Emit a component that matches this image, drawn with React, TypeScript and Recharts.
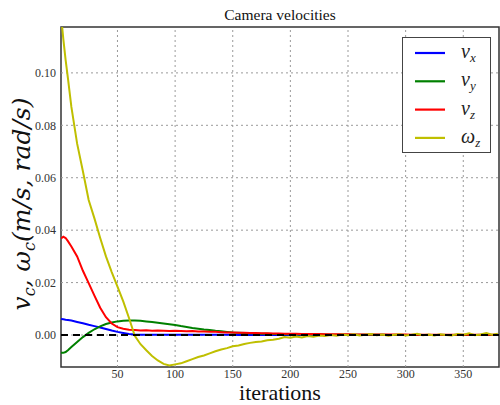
import React from 'react';
import { LineChart, Line, XAxis, YAxis, Legend, ReferenceLine, ReferenceArea, Label } from 'recharts';

// iteration index of every sample
const iterations = [
  1, 3, 5, 7, 10, 15, 20, 25, 30, 35, 40, 45, 50, 55, 60, 65, 70, 75, 80, 85, 90, 95, 100,
  105, 110, 115, 120, 125, 130, 135, 140, 145, 150, 155, 160, 165, 170, 175, 180, 185, 190, 195, 200,
  205, 210, 215, 220, 225, 230, 235, 240, 245, 250, 255, 260, 265, 270, 275, 280, 285, 290, 295, 300,
  305, 310, 315, 320, 325, 330, 335, 340, 345, 350, 355, 360, 365, 370, 375, 380,
];

const vx = [
  0.0061, 0.006, 0.0058, 0.0057, 0.0055, 0.005, 0.0045, 0.0039, 0.0034, 0.0029, 0.0023, 0.0017, 0.0012, 0.0008, 0.0004, 0.0002, 0.0001, 0.0001, 0.0001, 0.0001, 0.0001, 0.0001, 0.0001,
  0.0001, 0.0001, 0.0001, 0.0001, 0.0001, 0.0001, 0.0001, 0.0001, 0.0001, 0.0001, 0, 0, 0, 0, 0, 0, 0, 0, 0, 0,
  0, 0, 0, 0, 0, 0, 0, 0, 0, 0, 0, 0, 0, 0, 0, 0, 0, 0, 0, 0,
  0, 0, 0, 0, 0, 0, 0, 0, 0, 0, 0, 0, 0, 0, 0, 0,
];

const vy = [
  -0.0068, -0.0068, -0.0065, -0.0058, -0.0046, -0.0027, -0.0008, 0.0008, 0.0022, 0.0033, 0.0042, 0.0048, 0.0052, 0.0054, 0.0055, 0.0055, 0.0054, 0.0052, 0.005, 0.0047, 0.0044, 0.0041, 0.0038,
  0.0034, 0.0031, 0.0027, 0.0024, 0.0021, 0.0019, 0.0016, 0.0014, 0.0012, 0.001, 0.0009, 0.0008, 0.0007, 0.0006, 0.0005, 0.0005, 0.0004, 0.0004, 0.0003, 0.0003,
  0.0002, 0.0002, 0.0002, 0.0002, 0.0002, 0.0002, 0.0001, 0.0001, 0.0001, 0.0001, 0.0001, 0.0001, 0.0001, 0.0001, 0.0001, 0.0001, 0, 0, 0, 0,
  0, 0, 0, 0, 0, 0, 0, 0, 0, 0, 0, 0, 0, 0, 0, 0,
];

const vz = [
  0.0368, 0.0375, 0.037, 0.0358, 0.0338, 0.03, 0.0245, 0.0198, 0.015, 0.0104, 0.0068, 0.0044, 0.003, 0.0024, 0.002, 0.0019, 0.0017, 0.0018, 0.0016, 0.0017, 0.0016, 0.0015, 0.0016,
  0.0015, 0.0014, 0.0015, 0.0013, 0.0013, 0.0012, 0.0012, 0.0011, 0.001, 0.001, 0.0009, 0.0009, 0.0008, 0.0008, 0.0007, 0.0007, 0.0006, 0.0006, 0.0005, 0.0005,
  0.0005, 0.0004, 0.0004, 0.0004, 0.0004, 0.0003, 0.0003, 0.0003, 0.0003, 0.0003, 0.0002, 0.0002, 0.0002, 0.0002, 0.0002, 0.0002, 0.0002, 0.0002, 0.0002, 0.0002,
  0.0001, 0.0001, 0.0001, 0.0001, 0.0001, 0.0001, 0.0001, 0.0001, 0.0001, 0.0001, 0.0001, 0.0001, 0.0001, 0.0001, 0.0001, 0.0001,
];

const wz = [
  0.122, 0.113, 0.105, 0.098, 0.087, 0.073, 0.0625, 0.0515, 0.0445, 0.037, 0.03, 0.024, 0.0185, 0.0128, 0.0065, -0.0003, -0.0035, -0.0058, -0.008, -0.0097, -0.011, -0.0116, -0.0112,
  -0.0108, -0.01, -0.0092, -0.0084, -0.0078, -0.007, -0.0062, -0.0055, -0.005, -0.0043, -0.004, -0.0034, -0.003, -0.0027, -0.0025, -0.002, -0.0018, -0.0014, -0.0008, -0.001,
  -0.0006, -0.0009, -0.0004, -0.0007, -0.0002, -0.0004, 0, -0.0003, 0.0002, -0.0001, 0.0003, -0.0002, 0.0001, 0.0004, -0.0001, 0.0002, -0.0003, 0.0001, 0.0003, -0.0002,
  0.0001, 0.0005, -0.0001, 0.0002, -0.0002, 0.0003, 0, -0.0002, 0.0004, 0.0001, 0.0007, -0.0001, 0.0002, 0.0008, 0.0001, 0.0005,
];

const xTicks = [50, 100, 150, 200, 250, 300, 350];
const yTicks = [0, 0.02, 0.04, 0.06, 0.08, 0.1];
const xDomain = [1, 381];
const yDomain = [-0.0122, 0.1175];

const data = iterations.map((it, i) => ({ it, vx: vx[i], vy: vy[i], vz: vz[i], wz: wz[i] }));

const SERIF = '"Liberation Serif", "DejaVu Serif", serif';
const WIDE_SERIF = '"DejaVu Serif", "Liberation Serif", serif';

const entries = [
  { key: 'vx', color: '#0000ff', base: 'v', sub: 'x' },
  { key: 'vy', color: '#008000', base: 'v', sub: 'y' },
  { key: 'vz', color: '#ff0000', base: 'v', sub: 'z' },
  { key: 'wz', color: '#bfbf00', base: 'ω', sub: 'z' },
];

function LegendBox() {
  return (
    <div style={{ width: 89, height: 116, border: '1.5px solid #444', background: '#fff', boxSizing: 'border-box' }}>
      <svg width={86} height={113}>
        {entries.map((e, i) => {
          const y = 15 + i * 28.3;
          return (
            <g key={e.key}>
              <line x1={12} x2={42} y1={y} y2={y} stroke={e.color} strokeWidth={2.2} />
              <text x={58} y={y + 5} fontFamily={SERIF} fontStyle="italic" fontSize={20} fill="#222">
                {e.base}
                <tspan fontSize={13} dy={4}>{e.sub}</tspan>
              </text>
            </g>
          );
        })}
      </svg>
    </div>
  );
}

function YTitle() {
  return (
    <text transform="translate(30,204) rotate(-90)" textAnchor="middle" fontFamily={WIDE_SERIF} fontStyle="italic" fontSize={25} fill="#111">
      v<tspan fontSize={16} dy={5}>c</tspan>
      <tspan dy={-5}>, ω</tspan>
      <tspan fontSize={16} dy={5}>c</tspan>
      <tspan dy={-5}>(m/s, rad/s)</tspan>
    </text>
  );
}

function XTitle() {
  return (
    <text x={280} y={400} textAnchor="middle" fontFamily={SERIF} fontSize={22} fill="#111">
      iterations
    </text>
  );
}

export default function App() {
  const tickStyle = { fontFamily: SERIF, fontSize: 12, fill: '#333' };
  const grid = { stroke: '#9a9a9a', strokeWidth: 1, strokeDasharray: '2 3' };
  return (
    <div style={{ position: 'absolute', left: 0, top: 0, width: 500, height: 405, background: '#fff', fontFamily: SERIF }}>
      <div style={{ position: 'absolute', left: 61, width: 438, top: 7, textAlign: 'center', fontSize: 15.5, color: '#111', lineHeight: '16px' }}>
        Camera velocities
      </div>
      <LineChart width={500} height={405} data={data} margin={{ top: 27, right: 1, bottom: 0, left: 0 }} style={{ fontFamily: SERIF }}>
        {xTicks.map((v) => (
          <ReferenceLine key={`gx${v}`} x={v} {...grid} />
        ))}
        {yTicks.map((v) => (
          <ReferenceLine key={`gy${v}`} y={v} {...grid} />
        ))}
        <XAxis
          dataKey="it"
          type="number"
          domain={xDomain}
          ticks={xTicks}
          allowDataOverflow
          height={38}
          tickSize={0}
          tickMargin={2}
          tick={tickStyle}
          axisLine={false}
        >
          <Label content={XTitle} />
        </XAxis>
        <YAxis
          type="number"
          domain={yDomain}
          ticks={yTicks}
          allowDataOverflow
          width={61}
          tickSize={0}
          tickMargin={5}
          tick={tickStyle}
          tickFormatter={(v: number) => v.toFixed(2)}
          axisLine={false}
        >
          <Label content={YTitle} />
        </YAxis>
        <Legend
          layout="vertical"
          align="center"
          verticalAlign="middle"
          content={LegendBox}
          wrapperStyle={{ top: 37, left: 402, width: 89, height: 116 }}
        />
        {entries.map((e) => (
          <Line key={e.key} dataKey={e.key} stroke={e.color} strokeWidth={2} dot={false} isAnimationActive={false} />
        ))}
        <ReferenceLine y={0} stroke="#000" strokeWidth={2.2} strokeDasharray="7 5" />
        <ReferenceArea x1={xDomain[0]} x2={xDomain[1]} y1={yDomain[0]} y2={yDomain[1]} fill="none" stroke="#333" strokeWidth={1.5} />
      </LineChart>
    </div>
  );
}
